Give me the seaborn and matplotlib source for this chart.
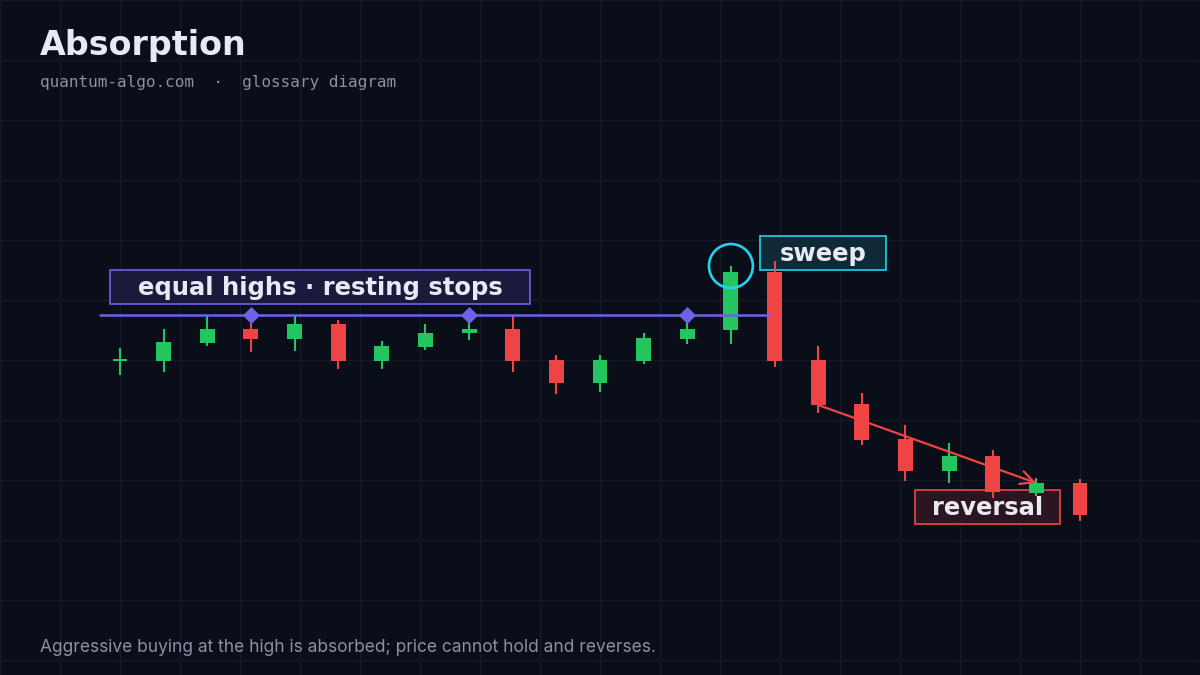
import matplotlib
matplotlib.use("Agg")
import matplotlib.pyplot as plt
from matplotlib.patches import Rectangle
import seaborn as sns
import numpy as np

# candle data (index, open, high, low, close)
idx = list(range(23))
opens = [100.0, 100.0, 101.8, 103.2, 102.2, 103.7, 100.0, 101.4, 102.8, 103.2, 100.1, 97.8,
         100.0, 102.2, 103.1, 108.9, 100.1, 95.7, 92.2, 89.0, 90.5, 86.8, 87.8]
highs = [101.3, 103.2, 104.5, 104.6, 104.5, 104.1, 102.0, 103.7, 104.6, 104.5, 100.6, 100.6,
         102.8, 104.6, 109.5, 110.0, 101.5, 96.8, 93.6, 91.8, 91.1, 88.3, 88.2]
lows = [98.6, 98.9, 101.5, 100.9, 101.0, 99.2, 99.2, 101.1, 102.1, 98.9, 96.7, 96.9,
        99.7, 101.7, 101.7, 99.4, 94.8, 91.6, 88.0, 87.8, 86.3, 86.5, 84.0]
closes = [100.1, 101.9, 103.2, 102.2, 103.7, 100.0, 101.5, 102.8, 103.2, 100.0, 97.8, 100.1,
          102.3, 103.2, 108.9, 100.0, 95.6, 92.1, 89.0, 90.5, 86.9, 87.8, 84.6]

equal_high_level = 104.6
equal_high_touches = [3, 8, 13]
sweep_idx = 14
reversal_from, reversal_to = 16, 21

BG = "#0a0e19"
GRID = "#151a28"
GREEN = "#22c55e"
RED = "#ef4444"
PURPLE = "#6c63e8"
CYAN = "#22d3ee"
TEXT = "#e8e9f3"
MUTED = "#8b90a3"

sns.set_theme(style="darkgrid", rc={
    "figure.facecolor": BG, "axes.facecolor": BG, "grid.color": GRID,
    "axes.edgecolor": BG, "savefig.facecolor": BG,
})
plt.rcParams["font.family"] = ["DejaVu Sans"]

fig = plt.figure(figsize=(12, 6.75), dpi=100)
ax = fig.add_axes([0, 0, 1, 1])

# map: candle spacing ~43.6 px, first candle at x=120 px; 10 px per price unit
px_per_idx = 960 / 22
ax.set_xlim(-120 / px_per_idx, 22 + 120 / px_per_idx)
ax.set_ylim(100 + (361 - 675) / 10, 100 + 361 / 10)


def px(x, y):
    # pixel position -> data position (for annotation boxes only)
    return (x - 120) / px_per_idx, 100 + (361 - y) / 10


# background grid every 60 px
ax.set_xticks([px(p, 0)[0] for p in range(0, 1201, 60)])
ax.set_yticks([px(0, p)[1] for p in range(0, 676, 60)])
ax.set_xticklabels([])
ax.set_yticklabels([])
ax.tick_params(length=0)
ax.grid(True, color=GRID, linewidth=1)
for s in ax.spines.values():
    s.set_visible(False)

o = np.array(opens); c = np.array(closes)
cols = [GREEN if cc >= oo else RED for oo, cc in zip(o, c)]
ax.vlines(idx, lows, highs, colors=cols, linewidth=1.5, zorder=3)
body_h = np.maximum(np.abs(c - o), 0.2)
ax.bar(idx, body_h, bottom=np.minimum(o, c), width=0.34, color=cols, zorder=4, linewidth=0)

# equal highs level
sns.lineplot(x=[-0.45, 14.9], y=[equal_high_level, equal_high_level], color=PURPLE,
             linewidth=1.8, ax=ax, zorder=5)
sns.scatterplot(x=equal_high_touches, y=[highs[i] for i in equal_high_touches], marker="D",
                s=65, color=PURPLE, edgecolor=PURPLE, ax=ax, zorder=6)

# sweep circle
ax.scatter([sweep_idx], [highs[sweep_idx]], s=1000, facecolors="none", edgecolors=CYAN,
           linewidths=1.9, zorder=6)

# reversal arrow
ax.annotate("", xy=(reversal_to, closes[reversal_to]), xytext=(reversal_from, closes[reversal_from]),
            arrowprops=dict(arrowstyle="->", color=RED, lw=1.6, mutation_scale=24,
                            shrinkA=0, shrinkB=0), zorder=6)


def label(text, x0, y0, x1, y1, face, edge):
    ax0, ay1 = px(x0, y1)
    ax1, ay0 = px(x1, y0)
    ax.add_patch(Rectangle((ax0, ay1), ax1 - ax0, ay0 - ay1, facecolor=face, edgecolor=edge,
                           linewidth=1.2, zorder=2))
    cx, cy = px((x0 + x1) / 2, (y0 + y1) / 2 + 1)
    ax.text(cx, cy, text, fontsize=17.5, fontweight="bold", color=TEXT, ha="center",
            va="center", zorder=8)


label("equal highs · resting stops", 110, 270, 530, 304, "#1b1a3d", PURPLE)
label("sweep", 760, 236, 886, 270, "#0d2a36", CYAN)
label("reversal", 915, 490, 1060, 524, "#2a1520", RED)

fig.text(40 / 1200, 1 - 46 / 675, "Absorption", fontsize=24, fontweight="bold", color=TEXT,
         va="center", ha="left")
fig.text(40 / 1200, 1 - 82 / 675, "quantum-algo.com  ·  glossary diagram", fontsize=11.5,
         family="DejaVu Sans Mono", color=MUTED, va="center", ha="left")
fig.text(40 / 1200, 1 - 647 / 675,
         "Aggressive buying at the high is absorbed; price cannot hold and reverses.",
         fontsize=12.5, family=["Inter", "DejaVu Sans"], color=MUTED, va="center", ha="left")

fig.savefig("out.png", dpi=100)
